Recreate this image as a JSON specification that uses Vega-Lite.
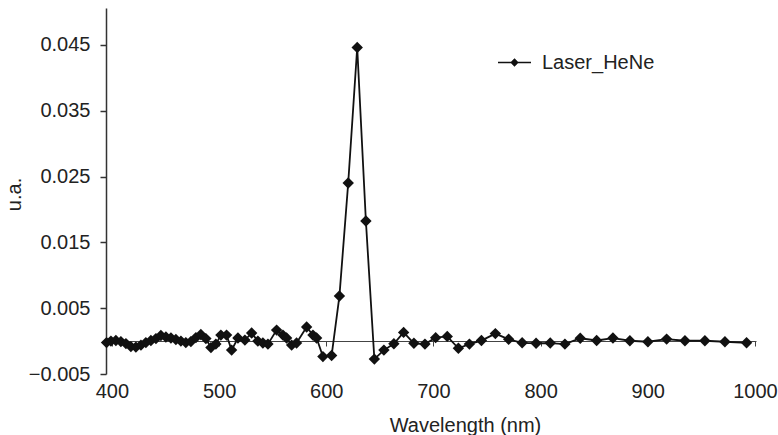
{
  "$schema": "https://vega.github.io/schema/vega-lite/v6.json",
  "width": 650,
  "height": 366,
  "autosize": {"type": "none"},
  "padding": {"left": 106, "top": 8, "right": 22, "bottom": 61},
  "background": "white",
  "config": {
    "view": {"stroke": null},
    "font": "Liberation Sans",
    "axis": {"grid": false, "labelFont": "Liberation Sans", "titleFont": "Liberation Sans", "labelFontSize": 20, "titleFontSize": 20, "titleFontWeight": "normal", "labelColor": "#222", "titleColor": "#222"}
  },
  "data": {
    "values": [
      {"wl": 395.0, "v": -0.00023, "s": "Laser_HeNe"},
      {"wl": 399.1, "v": 0.0, "s": "Laser_HeNe"},
      {"wl": 403.7, "v": 0.00008, "s": "Laser_HeNe"},
      {"wl": 408.4, "v": -0.00008, "s": "Laser_HeNe"},
      {"wl": 413.1, "v": -0.00038, "s": "Laser_HeNe"},
      {"wl": 417.7, "v": -0.00084, "s": "Laser_HeNe"},
      {"wl": 422.4, "v": -0.00091, "s": "Laser_HeNe"},
      {"wl": 427.1, "v": -0.00061, "s": "Laser_HeNe"},
      {"wl": 431.7, "v": -0.00023, "s": "Laser_HeNe"},
      {"wl": 436.4, "v": 0.00008, "s": "Laser_HeNe"},
      {"wl": 441.1, "v": 0.00038, "s": "Laser_HeNe"},
      {"wl": 445.7, "v": 0.00084, "s": "Laser_HeNe"},
      {"wl": 450.4, "v": 0.00061, "s": "Laser_HeNe"},
      {"wl": 455.1, "v": 0.00046, "s": "Laser_HeNe"},
      {"wl": 459.7, "v": 0.00023, "s": "Laser_HeNe"},
      {"wl": 464.4, "v": 0.0, "s": "Laser_HeNe"},
      {"wl": 469.0, "v": -0.00023, "s": "Laser_HeNe"},
      {"wl": 473.7, "v": -0.00008, "s": "Laser_HeNe"},
      {"wl": 478.4, "v": 0.00053, "s": "Laser_HeNe"},
      {"wl": 483.0, "v": 0.00099, "s": "Laser_HeNe"},
      {"wl": 487.7, "v": 0.00038, "s": "Laser_HeNe"},
      {"wl": 492.4, "v": -0.00099, "s": "Laser_HeNe"},
      {"wl": 497.0, "v": -0.00046, "s": "Laser_HeNe"},
      {"wl": 501.7, "v": 0.00091, "s": "Laser_HeNe"},
      {"wl": 507.0, "v": 0.00091, "s": "Laser_HeNe"},
      {"wl": 511.7, "v": -0.00137, "s": "Laser_HeNe"},
      {"wl": 517.6, "v": 0.00046, "s": "Laser_HeNe"},
      {"wl": 524.1, "v": 0.00015, "s": "Laser_HeNe"},
      {"wl": 530.4, "v": 0.00122, "s": "Laser_HeNe"},
      {"wl": 536.2, "v": 0.0, "s": "Laser_HeNe"},
      {"wl": 540.9, "v": -0.0003, "s": "Laser_HeNe"},
      {"wl": 545.6, "v": -0.00046, "s": "Laser_HeNe"},
      {"wl": 553.7, "v": 0.00167, "s": "Laser_HeNe"},
      {"wl": 559.6, "v": 0.00091, "s": "Laser_HeNe"},
      {"wl": 563.0, "v": 0.00046, "s": "Laser_HeNe"},
      {"wl": 567.7, "v": -0.00061, "s": "Laser_HeNe"},
      {"wl": 572.3, "v": -0.0003, "s": "Laser_HeNe"},
      {"wl": 581.7, "v": 0.00213, "s": "Laser_HeNe"},
      {"wl": 587.6, "v": 0.00091, "s": "Laser_HeNe"},
      {"wl": 591.0, "v": 0.00046, "s": "Laser_HeNe"},
      {"wl": 596.9, "v": -0.00236, "s": "Laser_HeNe"},
      {"wl": 605.0, "v": -0.0022, "s": "Laser_HeNe"},
      {"wl": 612.3, "v": 0.00684, "s": "Laser_HeNe"},
      {"wl": 620.5, "v": 0.02401, "s": "Laser_HeNe"},
      {"wl": 628.9, "v": 0.0446, "s": "Laser_HeNe"},
      {"wl": 637.0, "v": 0.01824, "s": "Laser_HeNe"},
      {"wl": 644.9, "v": -0.00274, "s": "Laser_HeNe"},
      {"wl": 653.8, "v": -0.00137, "s": "Laser_HeNe"},
      {"wl": 663.1, "v": -0.00041, "s": "Laser_HeNe"},
      {"wl": 672.2, "v": 0.00132, "s": "Laser_HeNe"},
      {"wl": 681.8, "v": -0.00033, "s": "Laser_HeNe"},
      {"wl": 692.1, "v": -0.00046, "s": "Laser_HeNe"},
      {"wl": 702.1, "v": 0.00052, "s": "Laser_HeNe"},
      {"wl": 712.9, "v": 0.00071, "s": "Laser_HeNe"},
      {"wl": 723.3, "v": -0.00109, "s": "Laser_HeNe"},
      {"wl": 733.6, "v": -0.00046, "s": "Laser_HeNe"},
      {"wl": 744.8, "v": 0.00008, "s": "Laser_HeNe"},
      {"wl": 757.8, "v": 0.00114, "s": "Laser_HeNe"},
      {"wl": 770.2, "v": 0.00027, "s": "Laser_HeNe"},
      {"wl": 782.8, "v": -0.00026, "s": "Laser_HeNe"},
      {"wl": 795.8, "v": -0.00033, "s": "Laser_HeNe"},
      {"wl": 809.0, "v": -0.0003, "s": "Laser_HeNe"},
      {"wl": 822.7, "v": -0.00046, "s": "Laser_HeNe"},
      {"wl": 837.0, "v": 0.00043, "s": "Laser_HeNe"},
      {"wl": 852.3, "v": 0.00009, "s": "Laser_HeNe"},
      {"wl": 867.5, "v": 0.00046, "s": "Laser_HeNe"},
      {"wl": 883.3, "v": 0.00005, "s": "Laser_HeNe"},
      {"wl": 900.1, "v": -0.0001, "s": "Laser_HeNe"},
      {"wl": 917.6, "v": 0.0003, "s": "Laser_HeNe"},
      {"wl": 934.7, "v": 0.00005, "s": "Laser_HeNe"},
      {"wl": 953.3, "v": 0.00005, "s": "Laser_HeNe"},
      {"wl": 972.0, "v": -0.0001, "s": "Laser_HeNe"},
      {"wl": 992.2, "v": -0.00026, "s": "Laser_HeNe"}
    ]
  },
  "encoding": {
    "x": {
      "field": "wl", "type": "quantitative",
      "scale": {"domain": [394.5, 1001], "nice": false, "zero": false},
      "axis": {
        "title": "Wavelength (nm)",
        "values": [400, 500, 600, 700, 800, 900, 1000],
        "format": "d",
        "offset": -33,
        "domainColor": "#444", "domainWidth": 1,
        "tickColor": "#444", "tickWidth": 1, "tickSize": 5,
        "labelPadding": 35,
        "labelFlush": false,
        "titleX": 359, "titleY": 84, "titleBaseline": "middle", "titleAnchor": null
      }
    },
    "y": {
      "field": "v", "type": "quantitative",
      "scale": {"domain": [-0.005, 0.0506], "nice": false, "zero": false},
      "axis": {
        "title": "u.a.",
        "values": [-0.005, 0.005, 0.015, 0.025, 0.035, 0.045],
        "format": ".3f",
        "domainColor": "#333", "domainWidth": 1.5,
        "tickColor": "#333", "tickWidth": 1.5, "tickSize": 6,
        "labelPadding": 10,
        "labelFlush": false,
        "titleX": -92, "titleY": 186, "titleAngle": 270, "titleAlign": "center", "titleBaseline": "middle"
      }
    },
    "color": {
      "field": "s", "type": "nominal",
      "scale": {"range": ["#111"]},
      "legend": {
        "title": null,
        "orient": "none",
        "legendX": 391,
        "legendY": 37,
        "padding": 0,
        "symbolType": "M-1,0H1M0,-0.19L0.19,0L0,0.19L-0.19,0Z",
        "symbolSize": 1089,
        "symbolFillColor": "#111",
        "symbolStrokeColor": "#111",
        "symbolStrokeWidth": 1.5,
        "labelFont": "Liberation Sans",
        "labelFontSize": 20,
        "labelColor": "#222",
        "labelOffset": 10
      }
    }
  },
  "layer": [
    {"mark": {"type": "line", "strokeWidth": 1.8}},
    {"mark": {"type": "point", "shape": "diamond", "filled": true, "size": 130, "opacity": 1}}
  ]
}
